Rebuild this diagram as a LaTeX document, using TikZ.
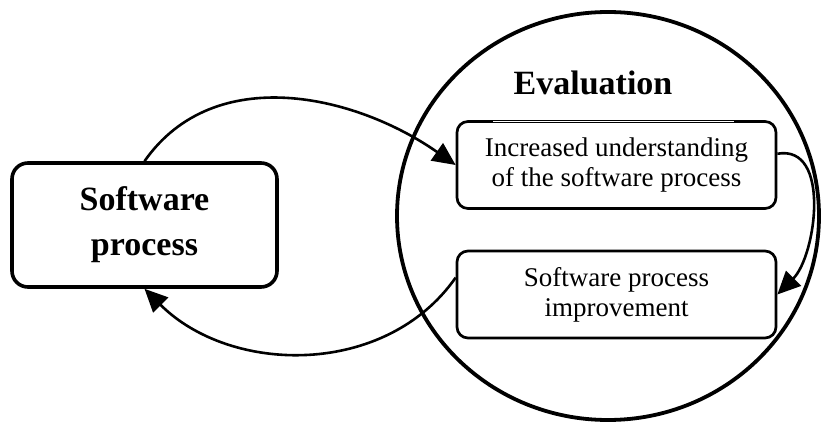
\documentclass[tikz,border=0pt]{standalone}
\usepackage{fontspec}
\setmainfont{Liberation Serif}
\usetikzlibrary{arrows.meta,shapes.geometric}

\begin{document}
\begin{tikzpicture}[x=1pt,y=1pt,
        flow/.style={draw,line width=2.6pt,-{Triangle[length=23pt,width=21pt]}},
        bigbox/.style={draw,line width=3.6pt,rounded corners=16pt,
          minimum width=265pt,minimum height=124pt,align=center,
          font=\fontsize{34}{45}\selectfont\bfseries},
        smallbox/.style={draw,line width=2.7pt,rounded corners=11pt,
          minimum width=319pt,minimum height=87pt,align=center,
          font=\fontsize{27}{30}\selectfont}]

  \useasboundingbox (0,0) rectangle (821,423);

  \node[draw,ellipse,line width=3.8pt,minimum width=422pt,minimum height=408pt] (eval) at (608,207) {};
  \node[font=\fontsize{34}{40}\selectfont\bfseries] (title) at (593,340) {Evaluation};

  \node[bigbox] (sp) at (144.5,198) {Software\\process};
  \node[smallbox] (und) at (616.5,258) {Increased understanding\\of the software process};
  \node[smallbox] (imp) at (616.5,128.5) {Software process\\improvement};

  % thin stretch on the top edge under the title
  \draw[white,line width=3pt] ([xshift=-123.5pt]und.north) -- ([xshift=117.5pt]und.north);
  \draw[line width=0.6pt] ([xshift=-123.5pt]und.north) -- ([xshift=117.5pt]und.north);

  \draw[flow] (sp.north) to [out=55,in=145]  (und.west);
  \draw[flow] (und.4)    to [out=10,in=45]   (imp.east);
  \draw[flow] (imp.174)  to [out=235,in=-45] (sp.south);

\end{tikzpicture}
\end{document}
